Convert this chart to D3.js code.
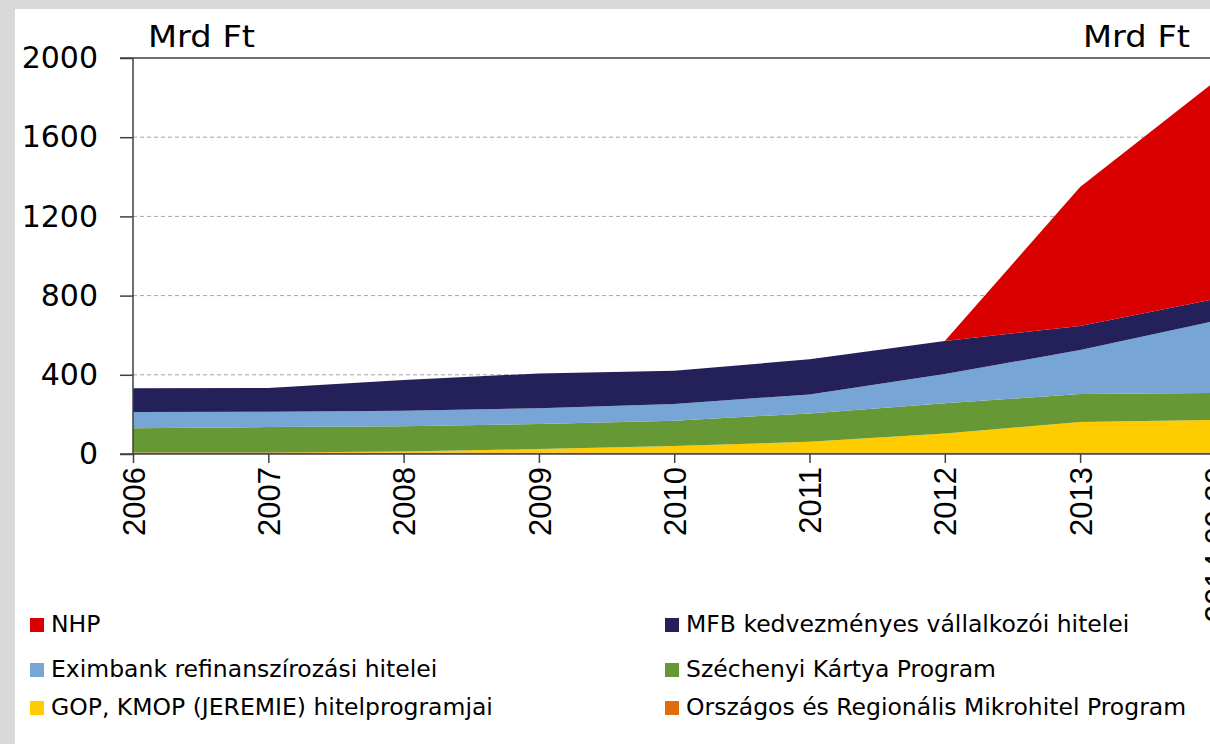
<!DOCTYPE html>
<html>
<head>
<meta charset="utf-8">
<script src="https://cdn.jsdelivr.net/npm/d3@7"></script>
<style>
  html, body { margin: 0; padding: 0; background: #d9d9d9; overflow: hidden; }
  svg { display: block; }
</style>
</head>
<body>
<svg id="chart" width="1210" height="744"></svg>
<script>
// ---- Data (Mrd Ft) ----
const categories = ["2006","2007","2008","2009","2010","2011","2012","2013","2014.09.30"];
const mikrohitel = [8, 8, 8, 8, 8, 8, 8, 8, 8];
const gopKmop    = [0, 0, 4, 17, 32, 54, 96, 153, 164];
const szechenyi  = [122, 128, 128, 127, 128, 143, 152, 142, 136];
const eximbank   = [82, 78, 79, 79, 85, 96, 148, 222, 364];
const mfb        = [120, 119, 155, 176, 168, 177, 167, 122, 111];
const nhp        = [null, null, null, null, null, null, 0, 701, 1101];
const yTicks = [0, 400, 800, 1200, 1600, 2000];
const unitLabel = "Mrd Ft";

const seriesKeys = ["mikro", "gop", "szk", "exim", "mfb", "nhp"];
const seriesNames = {
  nhp: "NHP",
  mfb: "MFB kedvezményes vállalkozói hitelei",
  exim: "Eximbank refinanszírozási hitelei",
  szk: "Széchenyi Kártya Program",
  gop: "GOP, KMOP (JEREMIE) hitelprogramjai",
  mikro: "Országos és Regionális Mikrohitel Program"
};
const colors = {
  nhp: "#d90000", mfb: "#24205a", exim: "#77a5d6",
  szk: "#669936", gop: "#ffcc00", mikro: "#e36c0a"
};

const rows = categories.map((c, i) => ({
  cat: c, mikro: mikrohitel[i], gop: gopKmop[i], szk: szechenyi[i],
  exim: eximbank[i], mfb: mfb[i], nhp: nhp[i]
}));

const svg = d3.select("#chart");
const W = 1210, H = 744;

// white panel
svg.append("rect").attr("x", 15).attr("y", 9).attr("width", W - 15).attr("height", H - 9).attr("fill", "#ffffff");

const x0 = 133, step = 135.3;
const x = d3.scalePoint().domain(categories).range([x0, x0 + step * (categories.length - 1)]);
const y = d3.scaleLinear().domain([0, 2000]).range([454, 58]);

const stack = d3.stack().keys(seriesKeys).value((d, k) => d[k] == null ? 0 : d[k]);
const layers = stack(rows);

// gridlines
svg.append("g").selectAll("line").data(yTicks.filter(t => t > 0 && t < 2000)).join("line")
  .attr("x1", x0).attr("x2", W).attr("y1", d => y(d)).attr("y2", d => y(d))
  .attr("stroke", "#a6a6a6").attr("stroke-width", 1).attr("stroke-dasharray", "4,3");

// areas
const area = d3.area()
  .x(d => x(d.data.cat))
  .y0(d => y(d[0])).y1(d => y(d[1]))
  .curve(d3.curveLinear);

svg.append("g").selectAll("path").data(layers).join("path")
  .attr("fill", d => colors[d.key])
  .attr("d", d => area.defined(p => p.data[d.key] != null)(d));

// top border line at 2000
svg.append("line").attr("x1", 120).attr("x2", W).attr("y1", y(2000)).attr("y2", y(2000))
  .attr("stroke", "#404040").attr("stroke-width", 1.5);

// y axis
const yAxis = d3.axisLeft(y).tickValues(yTicks).tickSize(13).tickPadding(22).tickFormat(d3.format("d"));
const gy = svg.append("g").attr("transform", `translate(${x0},0)`).call(yAxis);
gy.select(".domain").attr("stroke", "#404040").attr("stroke-width", 1.5).attr("d", `M0,${y(2000)}V${y(0)}`);
gy.selectAll(".tick line").attr("stroke", "#404040").attr("stroke-width", 1.5);
gy.selectAll(".tick text").attr("font-family", "DejaVu Sans, sans-serif").attr("font-size", 30).attr("fill", "#000");

// x axis
const xAxis = d3.axisBottom(x).tickSize(9).tickPadding(0);
const gx = svg.append("g").attr("transform", `translate(0,${y(0)})`).call(xAxis);
gx.select(".domain").attr("stroke", "#404040").attr("stroke-width", 1.5).attr("d", `M120,0H${W}`);
gx.selectAll(".tick line").attr("stroke", "#404040").attr("stroke-width", 1.5);
gx.selectAll(".tick text")
  .attr("font-family", "Liberation Sans, Arial, sans-serif").attr("font-size", 31).attr("fill", "#000")
  .attr("text-anchor", "end")
  .attr("transform", "translate(0,13) rotate(-90)")
  .attr("x", 0).attr("y", 0).attr("dy", "0.36em");

// unit labels
svg.append("text").attr("x", 148).attr("y", 47).text(unitLabel)
  .attr("font-family", "DejaVu Sans, sans-serif").attr("font-size", 31)
  .attr("textLength", 107).attr("lengthAdjust", "spacingAndGlyphs");
svg.append("text").attr("x", 1190).attr("y", 47).attr("text-anchor", "end").text(unitLabel)
  .attr("font-family", "DejaVu Sans, sans-serif").attr("font-size", 31)
  .attr("textLength", 107).attr("lengthAdjust", "spacingAndGlyphs");

// legend
const legendOrder = [
  ["nhp", 0, 0], ["mfb", 1, 0],
  ["exim", 0, 1], ["szk", 1, 1],
  ["gop", 0, 2], ["mikro", 1, 2]
];
const colX = [30, 665], rowY = [632, 677, 715];
const lg = svg.append("g").selectAll("g").data(legendOrder).join("g")
  .attr("transform", d => `translate(${colX[d[1]]},${rowY[d[2]]})`);
lg.append("rect").attr("x", 0).attr("y", -14).attr("width", 14).attr("height", 14)
  .attr("fill", d => colors[d[0]]);
lg.append("text").attr("x", 21).attr("y", 0).text(d => seriesNames[d[0]])
  .attr("font-family", "DejaVu Sans, sans-serif").attr("font-size", 23.5).attr("fill", "#000");
</script>
</body>
</html>
